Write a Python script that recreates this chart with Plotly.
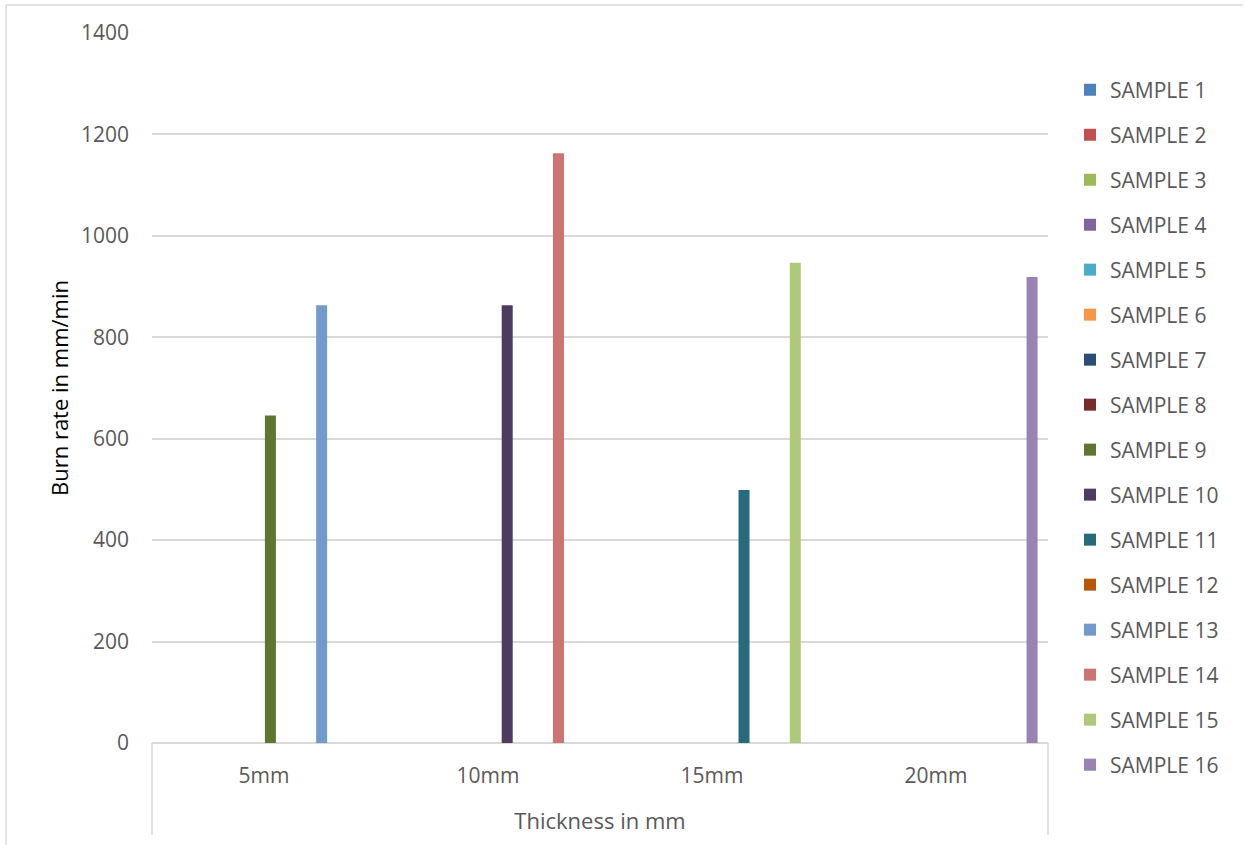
import plotly.graph_objects as go

categories = ["5mm", "10mm", "15mm", "20mm"]
series_names = [f"SAMPLE {i}" for i in range(1, 17)]
colors = ["#4F81BD", "#C0504D", "#9BBB59", "#8064A2", "#4BACC6", "#F79646",
          "#2C4D75", "#772C2A", "#5F7530", "#4D3B62", "#276A7C", "#B65708",
          "#729ACA", "#CD7371", "#AFC97A", "#9983B5"]

# burn rate (mm/min) per sample, per thickness category; 0 = no bar
values = {
    "SAMPLE 1": [0, 0, 0, 0],
    "SAMPLE 2": [0, 0, 0, 0],
    "SAMPLE 3": [0, 0, 0, 0],
    "SAMPLE 4": [0, 0, 0, 0],
    "SAMPLE 5": [0, 0, 0, 0],
    "SAMPLE 6": [0, 0, 0, 0],
    "SAMPLE 7": [0, 0, 0, 0],
    "SAMPLE 8": [0, 0, 0, 0],
    "SAMPLE 9": [646, 0, 0, 0],
    "SAMPLE 10": [0, 863, 0, 0],
    "SAMPLE 11": [0, 0, 499, 0],
    "SAMPLE 12": [0, 0, 0, 0],
    "SAMPLE 13": [863, 0, 0, 0],
    "SAMPLE 14": [0, 1163, 0, 0],
    "SAMPLE 15": [0, 0, 947, 0],
    "SAMPLE 16": [0, 0, 0, 919],
}

FONT = "Open Sans"
GRID = "#D9D9D9"
TXT = "#595959"

fig = go.Figure()
for name, col in zip(series_names, colors):
    fig.add_trace(go.Bar(
        x=categories, y=values[name], name=name,
        marker=dict(color=col, line=dict(width=0)),
        legendgroup=name,
    ))

W, H = 1244, 845
L, R, T, B = 152, 196, 33, 102
pw, ph = W - L - R, H - T - B

def px(x):
    return (x - L) / pw

def py(y):
    return (H - B - y) / ph

fig.update_layout(
    width=W, height=H,
    margin=dict(l=L, r=R, t=T, b=B),
    paper_bgcolor="white", plot_bgcolor="white",
    barmode="group", bargap=0.085, bargroupgap=0.14,
    font=dict(family=FONT, size=21, color=TXT),
    showlegend=True,
    legend=dict(
        x=px(1070), y=py(69.5), xanchor="left", yanchor="top",
        font=dict(family=FONT, size=21, color=TXT),
        tracegroupgap=14.7, bgcolor="rgba(0,0,0,0)", maxheight=1000,
    ),
    xaxis=dict(
        showgrid=False, showline=False, zeroline=False,
        ticks="", ticklabelstandoff=18,
        tickfont=dict(family=FONT, size=21, color=TXT),
        title=dict(text="Thickness in mm", font=dict(family=FONT, size=22, color=TXT), standoff=25),
    ),
    yaxis=dict(
        range=[0, 1400], dtick=200,
        showgrid=True, gridcolor=GRID, gridwidth=1.5,
        zeroline=True, zerolinecolor=GRID, zerolinewidth=1.5,
        showline=False, ticks="", ticklabelstandoff=22,
        tickfont=dict(family=FONT, size=21, color=TXT),
        title=dict(text="Burn rate in mm/min", font=dict(family=FONT, size=22, color="#000000"), standoff=6),
    ),
    shapes=[
        dict(type="line", xref="paper", yref="paper", x0=0, x1=0, y0=0, y1=py(835),
             line=dict(color=GRID, width=1.5)),
        dict(type="line", xref="paper", yref="paper", x0=1, x1=1, y0=0, y1=py(835),
             line=dict(color=GRID, width=1.5)),
        dict(type="line", xref="paper", yref="paper", x0=px(6), x1=px(1243), y0=py(5), y1=py(5),
             line=dict(color=GRID, width=1.5)),
        dict(type="line", xref="paper", yref="paper", x0=px(6), x1=px(6), y0=py(5), y1=py(845),
             line=dict(color=GRID, width=1.5)),
    ],
)

fig.write_html("out.html", config={"displayModeBar": False},
               post_script="document.body.style.margin='0';document.body.style.overflow='hidden';")
